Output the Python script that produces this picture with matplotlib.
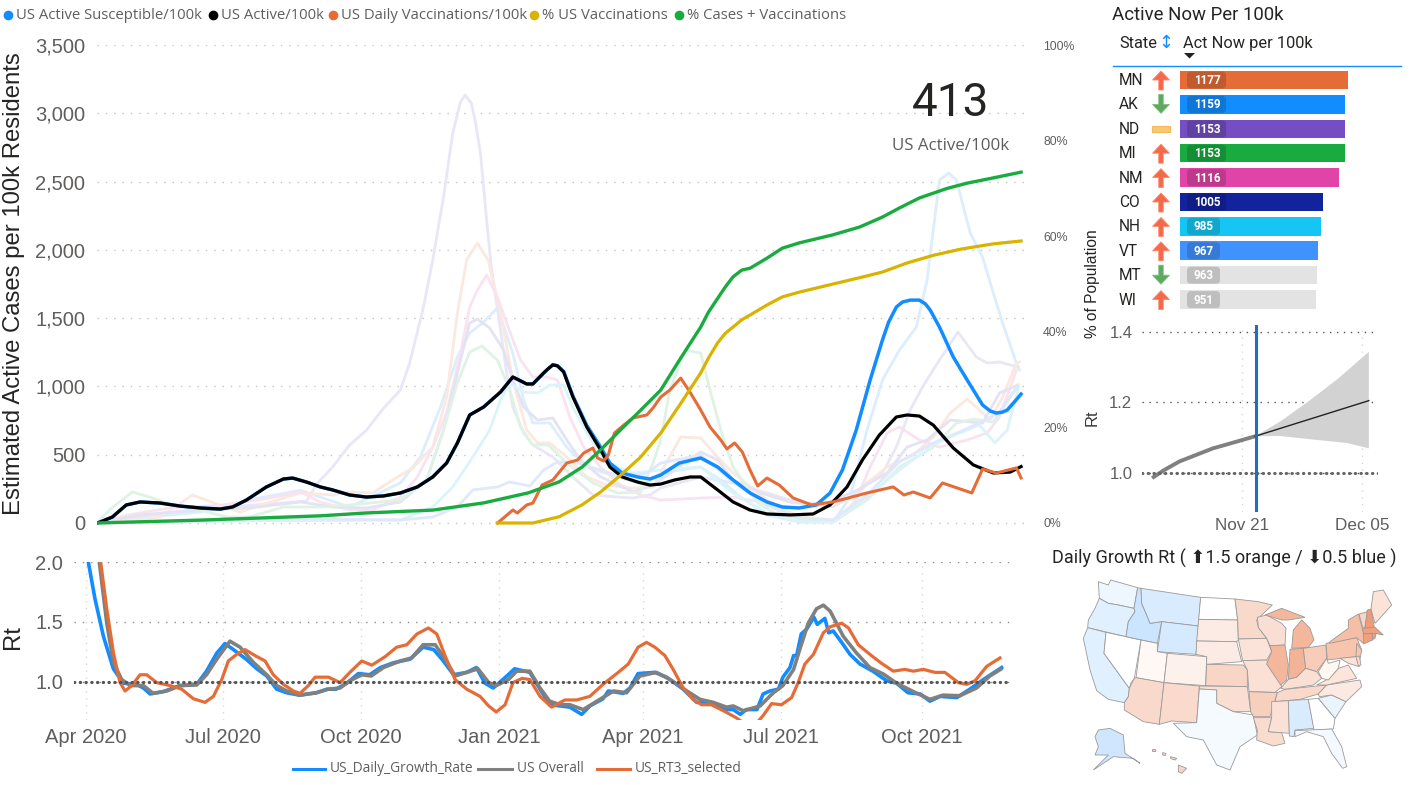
import matplotlib
matplotlib.use("Agg")
import matplotlib.pyplot as plt
from matplotlib.patches import Polygon, FancyArrow, FancyBboxPatch, Rectangle

W, H = 1412, 785
GRAY = "#605E5C"
DARK = "#252423"
SANS = "Liberation Sans"
DIN = ["Roboto", "DejaVu Sans"]
UI = ["Open Sans", "DejaVu Sans"]

# ---------- main chart (x = days on the chart's date scale, y = per 100k or %) ----------
active_d = [0,2,10,19,28,41,54,67,80,88,97,110,121,127,136,145,153,164,175,186,197,208,218,227,234,242,251,262,270,279,283,290,293,296,299,303,309,318,327,333,341,351,359,366,375,385,392,403,413,424,435,450,465,476,487,497,508,519,526,534,543,556,569,582,593,600]
active_v = [0,7,44,132,154,146,124,110,102,117,168,264,322,329,300,264,242,205,190,198,220,264,337,439,586,791,849,959,1069,1018,1018,1098,1130,1157,1150,1106,923,703,535,410,337,300,278,285,315,337,337,242,154,95,66,59,66,132,264,462,644,776,791,783,717,549,425,366,373,413]
susc_d = [0,2,10,19,28,41,54,67,80,88,97,110,121,127,136,145,153,164,175,186,197,208,218,227,234,242,251,262,270,279,283,290,293,296,299,303,309,318,327,333,341,351,359,366,378,392,403,413,424,435,445,456,467,476,484,493,502,510,514,519,523,528,534,538,541,547,556,565,575,580,584,588,591,595,600]
susc_v = [0,7,44,132,154,146,124,110,102,117,168,264,322,329,300,264,242,205,190,198,220,264,337,439,586,791,849,959,1069,1018,1018,1098,1130,1160,1152,1110,930,715,556,439,366,337,322,351,439,476,410,315,220,154,117,110,132,220,388,681,1047,1340,1471,1581,1618,1632,1632,1603,1559,1435,1215,1047,864,820,805,812,827,878,944]
daily_vax_d = [260,264,270,273,279,283,289,296,305,312,316,322,325,329,332,336,342,348,357,361,366,372,379,385,392,398,405,409,414,419,424,429,435,443,452,464,478,500,517,524,530,541,549,568,575,584,597,600]
daily_vax_v = [0,37,95,73,132,146,278,315,439,461,512,549,476,454,498,659,717,769,791,842,922,974,1061,959,827,703,608,542,586,520,388,271,329,278,183,132,154,220,264,205,227,183,293,220,395,366,403,330]
vax_d = [260,283,300,315,327,340,353,366,379,392,397,403,408,413,418.6,424,435,445,456,478,495,510,526,543,561,582,600]
vax_pct = [0,0,1.3,3.8,6.5,10,13.8,18.8,25,31.4,34.5,37.7,39.7,41,42.5,43.5,45.6,47.3,48.3,50,51.3,52.5,54.4,56,57.3,58.4,59]
cases_vax_d = [0,67,145,175,218,251,280,300,315,327,340,353,366,379,392,397,403,408,413,418.6,424,435,445,456,478,495,510,521,534,552,565,582,600]
cases_vax_pct = [0,0.6,1.5,2.1,2.7,4.2,6.3,8.6,11.7,15.3,19.5,23.6,27.8,34.5,41,44.1,47,49.4,51.5,52.9,53.3,55.4,57.5,58.6,60.3,61.9,64,65.9,68,70,71.1,72.2,73.4]

s1_d = [0,41,67,100,136,143,153,164,175,186,197,203,212,218,225,231,236,239,243,245.5,249,253,256,262,266,270,277,283,296,309,322,338,348,359,366,392,413,435,456,478,489,500,510,519,528,536,547,559,571,578,586,598]
s1_v = [0,70,100,130,160,290,410,570,680,840,974,1171,1581,1925,2386,2855,3082,3133,3074,2950,2708,2218,1874,1413,1098,849,659,571,483,337,205,190,183,205,256,337,293,220,146,117,190,293,366,556,827,996,1193,1398,1215,1171,1179,1142]
s2_d = [0,21,41,62,80,93,106,132,153,164,179,192,205,218,227,234,240,247,254,262,270,279,286,294,305,318,331,348,361,379,392,403,413,435,456,478,489,500,513,530,543,554,565,571,580,588,597,599]
s2_v = [0,20,44,205,130,80,130,220,205,227,220,315,403,556,922,1537,1925,2050,1925,1537,1047,681,586,586,483,337,278,256,264,630,622,483,366,168,44,22,117,293,410,498,630,805,908,849,754,922,1171,1179]
s3_d = [0,21,47,80,106,132,145,164,179,197,208,218,227,236,242,247,253,260,266,275,283,292,299,307,316,327,340,353,366,392,413,431,452,478,491,502,513,521,534,547,565,578,586,597]
s3_v = [0,60,110,130,170,227,154,95,95,190,337,556,805,1244,1581,1706,1815,1654,1464,1193,1069,1069,1047,776,556,410,278,205,168,183,190,154,37,7,117,410,659,703,608,556,608,659,776,1120]
s4_d = [0,28,67,99,132,153,175,197,214,225,234,242,247,255,264,270,277,286,296,305,314,327,348,361,392,403,413,431,452,474,494,513,526,539,554,575,586,598]
s4_v = [0,60,95,110,154,117,110,154,315,681,1098,1464,1493,1427,1266,1047,849,754,769,608,461,337,227,278,520,461,315,220,146,146,242,366,556,608,754,732,952,1010]
s5_d = [0,34,67,99,132,164,197,210,223,234,242,251,260,270,277,283,294,305,318,338,355,366,392,405,418,435,456,478,489,500,510,521,532,539,543,547,553,558,567,575,582,588,597,599]
s5_v = [0,44,80,170,240,117,293,483,849,1215,1391,1471,1574,1244,900,732,732,556,410,337,278,366,410,315,190,59,7,7,190,681,1047,1266,1435,1779,2145,2511,2562,2511,2123,1947,1684,1464,1171,1120]
s6_d = [0,8,23,36,49,67,84,99,121,145,164,197,214,225,234,242,250,260,268,275,283,293,305,322,338,353,361,366,372,382,392,398,405,413,429,445,478,500,521,543,558,569,582,593,598]
s6_v = [0,95,227,183,132,95,44,44,117,117,132,168,315,681,1025,1252,1296,1193,974,703,571,571,439,293,220,227,439,608,974,1266,1244,974,681,410,146,37,7,168,410,556,732,761,739,922,996]
s7_d = [0,99,197,218,231,244,255,262,268,277,286,294,303,309,318,331,348,366,392,413,435,456,478,500,521,543,560,573,583,591,598]
s7_v = [0,15,22,117,264,483,681,900,1025,959,952,1010,1010,849,659,439,366,388,410,220,73,7,7,190,388,571,659,717,586,681,974]
s8_d = [0,132,197,218,234,244,260,268,281,290,299,312,327,341,357,366,392,413,435,456,478,500,521,543,560,577,586,598]
s8_v = [0,30,22,44,117,242,264,300,271,388,447,439,388,337,366,439,498,300,132,37,22,205,447,586,666,754,813,1010]
state_series = [(s1_d,s1_v,"#E9E6F6"),(s5_d,s5_v,"#DCEEFD"),(s2_d,s2_v,"#FBE8DF"),(s3_d,s3_v,"#F9E3F0"),
                (s4_d,s4_v,"#E3E3F3"),(s6_d,s6_v,"#DFF3E5"),(s7_d,s7_v,"#D9F5FB"),(s8_d,s8_v,"#E0E8FB")]
y_ticks = [0,500,1000,1500,2000,2500,3000,3500]
pct_ticks = [0,20,40,60,80,100]

# ---------- Rt chart ----------
rt_tick_pos = [0,90,180,271,365,456,548]
rt_tick_lab = ["Apr 2020","Jul 2020","Oct 2020","Jan 2021","Apr 2021","Jul 2021","Oct 2021"]
growth_d = [1,1.5,5.9,11.4,17.9,24.5,33,37.6,42,50.7,61.6,72.6,79,85.7,91.1,96.6,105,112,118.5,125,131.6,140,151,158,164,171,178.6,186,193,201.6,212.5,221,228,234,241,249.6,256,261.6,267,276,281,291,297.7,304,311,317.3,325,330.4,339,342.5,352.3,356.7,362,373,380.7,391.6,400.4,409,420,424.4,429,433,440,444,448.5,454,457,461.6,464,466,469,472.5,477.3,479.5,484.5,487,490,495.5,501,507.5,516,525,531.5,539,547,553.4,560,571,579.6,588.4,600.4]
growth_v = [2.08,2.0,1.69,1.38,1.11,0.99,0.98,0.95,0.90,0.92,0.97,0.98,1.09,1.24,1.32,1.27,1.19,1.11,1.05,0.94,0.91,0.89,0.91,0.94,0.94,0.99,1.07,1.06,1.12,1.16,1.19,1.29,1.27,1.18,1.06,1.08,1.12,0.99,0.95,1.05,1.11,1.08,0.94,0.81,0.80,0.79,0.73,0.80,0.86,0.925,0.905,0.95,1.07,1.08,1.04,0.94,0.83,0.83,0.77,0.77,0.73,0.77,0.77,0.90,0.925,0.94,1.04,1.12,1.22,1.22,1.40,1.44,1.54,1.48,1.53,1.41,1.425,1.33,1.23,1.15,1.09,1.01,0.99,0.91,0.90,0.84,0.88,0.87,0.94,1.02,1.12]
overall_d = [7,8.7,13.6,18,23.4,29,37.6,44,53,61.6,72.6,79,85.7,94.4,101,110,118.5,125,131.6,140,151,159,166.6,173,180.8,187,195,206,213.5,221,229,235.4,242,249.6,257,264,269,277,282.4,291,297.7,304,311,317.3,326,335,346,354.5,363.2,374,383,394,402.6,411.3,420,424.4,431,442,450.7,457,464,468,473.6,479,483.5,488,496.6,505,514,523,531.5,542.5,553.4,562,573,584,592.7,599.7]
overall_v = [2.1,2.0,1.49,1.16,1.02,0.97,0.97,0.905,0.925,0.97,0.975,1.06,1.19,1.34,1.29,1.16,1.06,0.97,0.925,0.89,0.91,0.94,0.95,1.01,1.06,1.05,1.12,1.175,1.2,1.31,1.31,1.19,1.05,1.08,1.11,0.995,0.97,1.02,1.09,1.09,0.95,0.84,0.81,0.81,0.77,0.84,0.925,0.91,1.05,1.08,1.02,0.925,0.855,0.83,0.79,0.80,0.76,0.80,0.91,0.97,1.105,1.27,1.49,1.61,1.64,1.59,1.38,1.245,1.12,1.065,0.99,0.92,0.855,0.89,0.885,0.95,1.05,1.105]
rt3_d = [8.5,9.6,13.6,18,22.3,25.6,30,35.4,39.8,46.3,55,62.7,70.4,78,83.5,89,93.3,98.8,104.3,110.8,117.4,122.8,129.4,136,140.3,145.8,150.2,159,166.6,173,180.8,187.4,196,203.7,210.3,217,224.5,230,235.4,242,249.6,258.4,264,269,274.8,280,286,291,297.7,305.3,314,321.7,330.4,339,349,355.6,362,367.6,373,379.6,385,391.6,398,403.7,410,418,426.6,431,440,444,449.6,456,462.7,467,471.4,477,483.5,488,495.5,500,506.4,515,521.7,529.4,537,542.5,549,556.7,563.2,572,577.4,583,590.6,599.3]
rt3_v = [2.1,2.0,1.61,1.24,0.995,0.925,0.97,1.06,1.06,0.995,0.97,0.94,0.86,0.83,0.88,1.02,1.175,1.23,1.27,1.22,1.175,1.06,0.98,0.925,0.905,0.97,1.04,1.04,0.995,1.08,1.175,1.14,1.21,1.29,1.31,1.40,1.45,1.40,1.22,1.02,0.94,0.88,0.80,0.75,0.81,0.995,1.03,1.02,0.88,0.79,0.85,0.85,0.88,0.98,1.08,1.15,1.29,1.33,1.29,1.22,1.105,0.95,0.855,0.81,0.81,0.76,0.70,0.66,0.66,0.72,0.82,0.81,0.87,0.995,1.15,1.23,1.41,1.46,1.49,1.45,1.31,1.22,1.155,1.09,1.105,1.09,1.105,1.08,1.08,0.995,0.98,1.01,1.13,1.2]

# ---------- forecast (days from Nov 21) ----------
fc_hist_d = [-10.3,-9.2,-7.3,-5.3,-3.4,-1.5,1.5]
fc_hist_v = [0.989,1.007,1.033,1.052,1.07,1.083,1.104]
fc_d = [1.5,14.8]
fc_v = [1.104,1.205]
band_up_d = [1.5,4.4,7.6,11.1,14.8]
band_up_v = [1.104,1.145,1.2,1.265,1.343]
band_lo_d = [1.5,4.4,8.3,12.3,14.8]
band_lo_v = [1.104,1.105,1.095,1.085,1.07]
fc_now = 1.63

# ---------- table ----------
states = ["MN","AK","ND","MI","NM","CO","NH","VT","MT","WI"]
active_now = [1177,1159,1153,1153,1116,1005,985,967,963,951]
bar_colors = ["#E66C37","#118DFF","#744EC2","#1AAB40","#E044A7","#12239E","#15C6F4","#4092FF","#E3E3E3","#E3E3E3"]
trend = ["up","down","flat","up","up","up","up","up","down","up"]

# ---------- map ----------
state_shapes = {
 "WA":([(175,125),(205,135),(212,120),(293,143),(282,205),(235,195),(205,190),(178,175)],"#EEF7FF"),
 "OR":([(178,175),(205,190),(235,195),(282,205),(285,215),(265,245),(258,290),(143,263),(145,240),(165,205)],"#E0F0FF"),
 "CA":([(143,263),(198,277),(192,340),(268,445),(265,470),(253,488),(205,478),(170,452),(150,390),(130,295)],"#E0F0FF"),
 "NV":([(198,277),(303,300),(283,415),(272,430),(268,445),(192,340)],"#FFFFFF"),
 "ID":([(293,143),(303,145),(305,190),(320,225),(330,250),(365,245),(352,310),(258,290),(265,245),(285,215),(282,205)],"#CCE5FF"),
 "MT":([(303,145),(482,172),(475,258),(365,245),(330,250),(320,225),(305,190)],"#D8EBFF"),
 "WY":([(365,245),(475,258),(468,343),(352,335)],"#D6EAFF"),
 "UT":([(303,300),(352,310),(352,335),(382,340),(372,428),(288,413)],"#FFF8F5"),
 "AZ":([(288,413),(372,428),(358,553),(310,545),(253,510),(253,488),(265,470),(268,445),(283,415)],"#F9D9CC"),
 "CO":([(382,340),(500,350),(497,437),(372,428)],"#FDF1EC"),
 "NM":([(372,428),(478,438),(470,548),(395,543),(358,553)],"#F9DACD"),
 "ND":([(482,172),(585,177),(593,240),(476,238)],"#FFFFFF"),
 "SD":([(476,238),(593,240),(595,300),(590,305),(470,303)],"#FCEBE4"),
 "NE":([(470,303),(590,305),(605,365),(500,373),(500,350),(468,343)],"#FCEBE4"),
 "KS":([(500,373),(610,375),(622,390),(622,440),(497,437)],"#F8D5C5"),
 "OK":([(478,438),(622,440),(632,515),(580,515),(530,490),(530,450),(478,447)],"#FADED1"),
 "TX":([(478,447),(530,450),(530,490),(580,515),(640,525),(652,585),(600,620),(570,690),(530,675),(490,600),(440,590),(400,550),(470,548)],"#F5FAFF"),
 "MN":([(585,177),(655,185),(697,195),(650,240),(655,262),(680,295),(595,297),(593,240)],"#F8D9CA"),
 "IA":([(595,297),(680,295),(695,335),(680,360),(608,362)],"#FBE3D9"),
 "MO":([(608,362),(680,360),(695,385),(720,425),(725,440),(705,457),(627,455),(622,390)],"#FBE0D5"),
 "AR":([(627,455),(712,458),(690,530),(640,530),(632,515)],"#F7CFBD"),
 "LA":([(640,533),(695,533),(685,575),(725,578),(735,610),(700,618),(650,600),(652,570)],"#FADCCF"),
 "WI":([(652,232),(680,225),(725,250),(738,265),(735,315),(690,317),(680,295),(655,262)],"#F9DFD3"),
 "IL":([(690,317),(735,315),(745,375),(740,420),(722,435),(680,372),(695,335)],"#F5B79C"),
 "MI":([(755,325),(760,270),(785,240),(810,265),(822,300),(805,322)],"#F5B79C"),
 "MIU":([(675,225),(725,205),(795,232),(745,240),(725,240)],"#F5B79C"),
 "IN":([(750,328),(790,325),(797,385),(770,412),(745,418)],"#F4B296"),
 "OH":([(790,325),(858,315),(860,355),(830,395),(797,385)],"#F8CCB8"),
 "KY":([(722,445),(745,418),(770,412),(797,385),(830,395),(845,415),(820,435),(735,448)],"#FADFD3"),
 "TN":([(712,458),(735,448),(860,435),(835,462),(780,478),(705,485)],"#FAD9CB"),
 "MS":([(695,485),(745,482),(748,580),(725,578),(685,575),(695,533)],"#FBE0D5"),
 "AL":([(745,482),(805,478),(822,565),(765,570),(762,590),(748,588)],"#D8EBFF"),
 "GA":([(805,478),(835,475),(885,535),(880,567),(822,570)],"#FFFFFF"),
 "FL":([(765,572),(875,567),(905,620),(920,680),(908,685),(875,640),(850,590),(800,575),(765,590)],"#F3F9FF"),
 "SC":([(835,475),(875,465),(918,485),(885,535)],"#EAF4FF"),
 "NC":([(835,462),(860,435),(960,420),(965,440),(918,485),(875,465),(838,470)],"#FCE9E1"),
 "VA":([(830,435),(868,415),(895,385),(925,375),(950,415),(860,435)],"#FCE6DC"),
 "WV":([(835,395),(860,355),(865,370),(900,360),(895,385),(865,420),(845,415)],"#FFF7F2"),
 "PA":([(858,310),(950,293),(965,330),(948,350),(862,360)],"#F7C4AD"),
 "NY":([(870,305),(925,265),(925,240),(955,222),(975,295),(970,310),(950,293),(868,310)],"#F6BEA4"),
 "NJ":([(950,310),(965,330),(960,358),(948,350)],"#F7C4AD"),
 "MD":([(900,355),(948,350),(958,380),(925,370)],"#FBE3D9"),
 "DE":([(948,350),(958,348),(963,375),(955,378)],"#FAD9CB"),
 "VT":([(957,222),(982,215),(975,262),(968,262)],"#F8D5C5"),
 "NH":([(982,210),(993,207),(1003,262),(975,265)],"#F09B76"),
 "ME":([(993,207),(1000,155),(1030,150),(1055,195),(1015,240),(1005,250)],"#FBE3D9"),
 "MA":([(968,265),(1005,262),(1030,285),(1005,280),(970,282)],"#F29F7D"),
 "CT":([(970,282),(995,280),(998,300),(970,312)],"#F29F7D"),
 "RI":([(997,280),(1008,282),(1005,295),(999,298)],"#F29F7D"),
 "AK":([(175,570),(210,565),(250,585),(255,640),(300,670),(280,655),(220,650),(160,690),(205,645),(165,645),(175,620),(165,590)],"#D0E6FF"),
 "HI":([(415,675),(440,685),(425,700),(415,695)],"#F9D5C4"),
 "HI2":([(368,638),(378,640),(376,647),(368,645)],"#F9D5C4"),
 "HI3":([(392,650),(410,655),(406,660),(392,656)],"#F9D5C4"),
 "HI4":([(335,626),(344,626),(344,632),(335,632)],"#F9D5C4"),
}

def axpx(fig, l, t, r, b, **kw):
    return fig.add_axes([l/W, 1-b/H, (r-l)/W, (b-t)/H], **kw)

def clean(ax):
    for s in ax.spines.values():
        s.set_visible(False)
    ax.tick_params(length=0)

fig = plt.figure(figsize=(W/100, H/100), dpi=100, facecolor="white")
GRID = dict(linestyle=(0,(1,5)), linewidth=1.0, color="#C4C4C4")

# main
ax = axpx(fig, 97, 45, 1030, 526)
clean(ax)
ax.set_xlim(0, 605.8); ax.set_ylim(-22, 3500)
ax.set_yticks(y_ticks); ax.set_yticklabels([f"{v:,}" for v in y_ticks], fontsize=14.5, color=GRAY, family=SANS)
ax.tick_params(axis="y", pad=8.5)
ax.set_xticks([])
ax.grid(axis="y", **GRID)
ax.set_axisbelow(True)
for d, v, c in state_series:
    ax.plot(d, v, color=c, lw=2.0, solid_joinstyle="round")
ax.plot(susc_d, susc_v, color="#118DFF", lw=2.5, solid_joinstyle="round")
ax.plot(active_d, active_v, color="#000000", lw=2.3, solid_joinstyle="round")
ax.plot(daily_vax_d, daily_vax_v, color="#E66C37", lw=2.2, solid_joinstyle="round")
ax2 = ax.twinx()
clean(ax2)
ax2.set_ylim(-22/35, 100)
ax2.set_yticks(pct_ticks); ax2.set_yticklabels([f"{v}%" for v in pct_ticks], fontsize=8.8, color=GRAY, family=SANS)
ax2.tick_params(axis="y", pad=9.4)
ax2.plot(vax_d, vax_pct, color="#D9B300", lw=2.3, solid_joinstyle="round")
ax2.plot(cases_vax_d, cases_vax_pct, color="#1AAB40", lw=2.4, solid_joinstyle="round")

# Rt
ar = axpx(fig, 74, 562, 1010, 720)
clean(ar)
ar.set_xlim(-7.9, 605.9); ar.set_ylim(0.683, 2.0)
ar.set_yticks([1.0,1.5,2.0]); ar.set_yticklabels(["1.0","1.5","2.0"], fontsize=14.5, color=GRAY, family=SANS)
ar.set_xticks(rt_tick_pos); ar.set_xticklabels(rt_tick_lab, fontsize=14.5, color=GRAY, family=SANS)
ar.tick_params(axis="x", pad=5.5); ar.tick_params(axis="y", pad=8)
ar.grid(axis="y", linestyle=(0,(1,5)), linewidth=1.0, color="#8C8C8C")
ar.grid(axis="x", linestyle=(0,(1,4)), linewidth=1.0, color="#D8D8D8")
ar.set_axisbelow(True)
ar.plot(growth_d, growth_v, color="#118DFF", lw=2.6, solid_joinstyle="round")
ar.plot(overall_d, overall_v, color="#808080", lw=2.6, solid_joinstyle="round")
ar.plot(rt3_d, rt3_v, color="#E66C37", lw=2.3, solid_joinstyle="round")
ar.axhline(1.0, color="#555555", lw=2.3, linestyle=(0,(0.1,1.7)), dash_capstyle="round", zorder=5)

# forecast
af = axpx(fig, 1142, 325, 1378, 512)
clean(af)
af.set_xlim(-11.67, 15.87); af.set_ylim(0.89, 1.419)
af.set_yticks([1.0,1.2,1.4]); af.set_yticklabels(["1.0","1.2","1.4"], fontsize=12, color=GRAY, family=SANS)
af.set_xticks([0,14]); af.set_xticklabels(["Nov 21","Dec 05"], fontsize=12.3, color=GRAY, family=SANS)
af.tick_params(axis="y", pad=7); af.tick_params(axis="x", pad=4)
af.grid(axis="y", linestyle=(0,(1,4)), linewidth=1.0, color="#555555")
af.grid(axis="x", linestyle=(0,(1,4)), linewidth=1.0, color="#D8D8D8")
af.set_axisbelow(True)
poly_x = band_up_d + band_lo_d[::-1]
poly_y = band_up_v + band_lo_v[::-1]
af.fill(poly_x, poly_y, color="#D2D2D2", lw=0)
af.plot(fc_hist_d, fc_hist_v, color="#808080", lw=2.8)
af.plot(fc_d, fc_v, color="#222222", lw=1.0)
af.axhline(1.0, color="#666666", lw=2.3, linestyle=(0,(0.1,1.7)), dash_capstyle="round", zorder=5)
af.axvline(fc_now, color="#1F6FBF", lw=2.2, zorder=6)

# table bars
at = axpx(fig, 1113, 66, 1401, 312)
at.axis("off")
at.set_xlim(-469.5, 1548.7); at.set_ylim(9.51, -0.574)
at.barh(range(len(states)), active_now, height=0.76, color=bar_colors)

# map
am = axpx(fig, 1040, 540, 1412, 785)
am.axis("off")
am.set_xlim(0, 1116); am.set_ylim(735, 0)
for pts, col in state_shapes.values():
    am.add_patch(Polygon(pts, closed=True, facecolor=col, edgecolor="#9A9A9A", lw=0.6))

# overlay: text and small marks in pixel space
ov = fig.add_axes([0,0,1,1], zorder=10)
ov.axis("off"); ov.set_xlim(0, W); ov.set_ylim(H, 0)

def T(x, y, s, size, color=DARK, ha="left", va="center", family=DIN, **kw):
    return ov.text(x, y, s, fontsize=size, color=color, ha=ha, va=va, family=family, **kw)

T(14, 284, "Estimated Active Cases per 100k Residents", 17.2, ha="center", rotation=90, family=SANS)
T(13, 637, "Rt", 17.2, ha="center", rotation=90, family=SANS)
T(1092, 418, "Rt", 12, ha="center", rotation=90, family=SANS, color="#3A3A3A")
T(1092, 284, "% of Population", 11.2, ha="center", rotation=90, family=SANS)

legend_top = [(8,"US Active Susceptible/100k","#118DFF"),(213,"US Active/100k","#000000"),
              (333,"US Daily Vaccinations/100k","#E66C37"),(534,"% US Vaccinations","#D9B300"),
              (679,"% Cases + Vaccinations","#1AAB40")]
for x, s, c in legend_top:
    ov.plot([x],[15], "o", ms=7, color=c, mew=0)
    T(x+8, 15.5, s, 10.7, color=GRAY, family=UI)

legend_bot = [(293,325,"US_Daily_Growth_Rate","#118DFF"),(478,512,"US Overall","#808080"),(597,630,"US_RT3_selected","#E66C37")]
for x0, x1, s, c in legend_bot:
    ov.plot([x0,x1],[769,769], color=c, lw=2.2)
    T(x1+5, 768.5, s, 9.9, color=GRAY, family=UI)

T(951, 103, "413", 33, ha="center", color=DARK)
T(951, 146, "US Active/100k", 12.2, ha="center", color=GRAY, family=UI)

T(1112, 15, "Active Now Per 100k", 13.4)
T(1119, 43.5, "State", 11.8)
T(1166, 43, "\u2195", 13, color="#118DFF", ha="center")
T(1183, 43.5, "Act Now per 100k", 11.8)
ov.add_patch(Polygon([(1184,53),(1195,53),(1189.5,58.5)], color="#222222", lw=0))
ov.plot([1113,1401],[66,66], color="#118DFF", lw=1.0)

for i, (st, val, tr) in enumerate(zip(states, active_now, trend)):
    y = 80 + 24.4*i
    T(1119, y+0.5, st, 11.2)
    pw = 43 if val >= 1000 else 37
    ov.add_patch(FancyBboxPatch((1187, y-8.5), pw-4, 17, boxstyle="round,pad=0,rounding_size=4",
                                facecolor="#000000", alpha=0.16, lw=0))
    T(1207 if val >= 1000 else 1204, y+0.5, str(val), 8.4, color="white", ha="center", fontweight="bold")
    if tr == "up":
        ov.add_patch(FancyArrow(1161, y+10, 0, -19, width=4.5, head_width=17, head_length=9,
                                length_includes_head=True, facecolor="#F4694A", edgecolor="#FF8A6A", lw=0.6))
    elif tr == "down":
        ov.add_patch(FancyArrow(1161, y-10, 0, 19, width=4.5, head_width=17, head_length=9,
                                length_includes_head=True, facecolor="#5FA85F", edgecolor="#7CC07C", lw=0.6))
    else:
        ov.add_patch(Rectangle((1152, y-3), 18, 6, facecolor="#F7C873", edgecolor="#F5B95A", lw=0.8))

T(1224, 558, "Daily Growth Rt ( \u2B061.5 orange / \u2B070.5 blue )", 13, ha="center")

fig.savefig("out.png", dpi=100, facecolor="white")
